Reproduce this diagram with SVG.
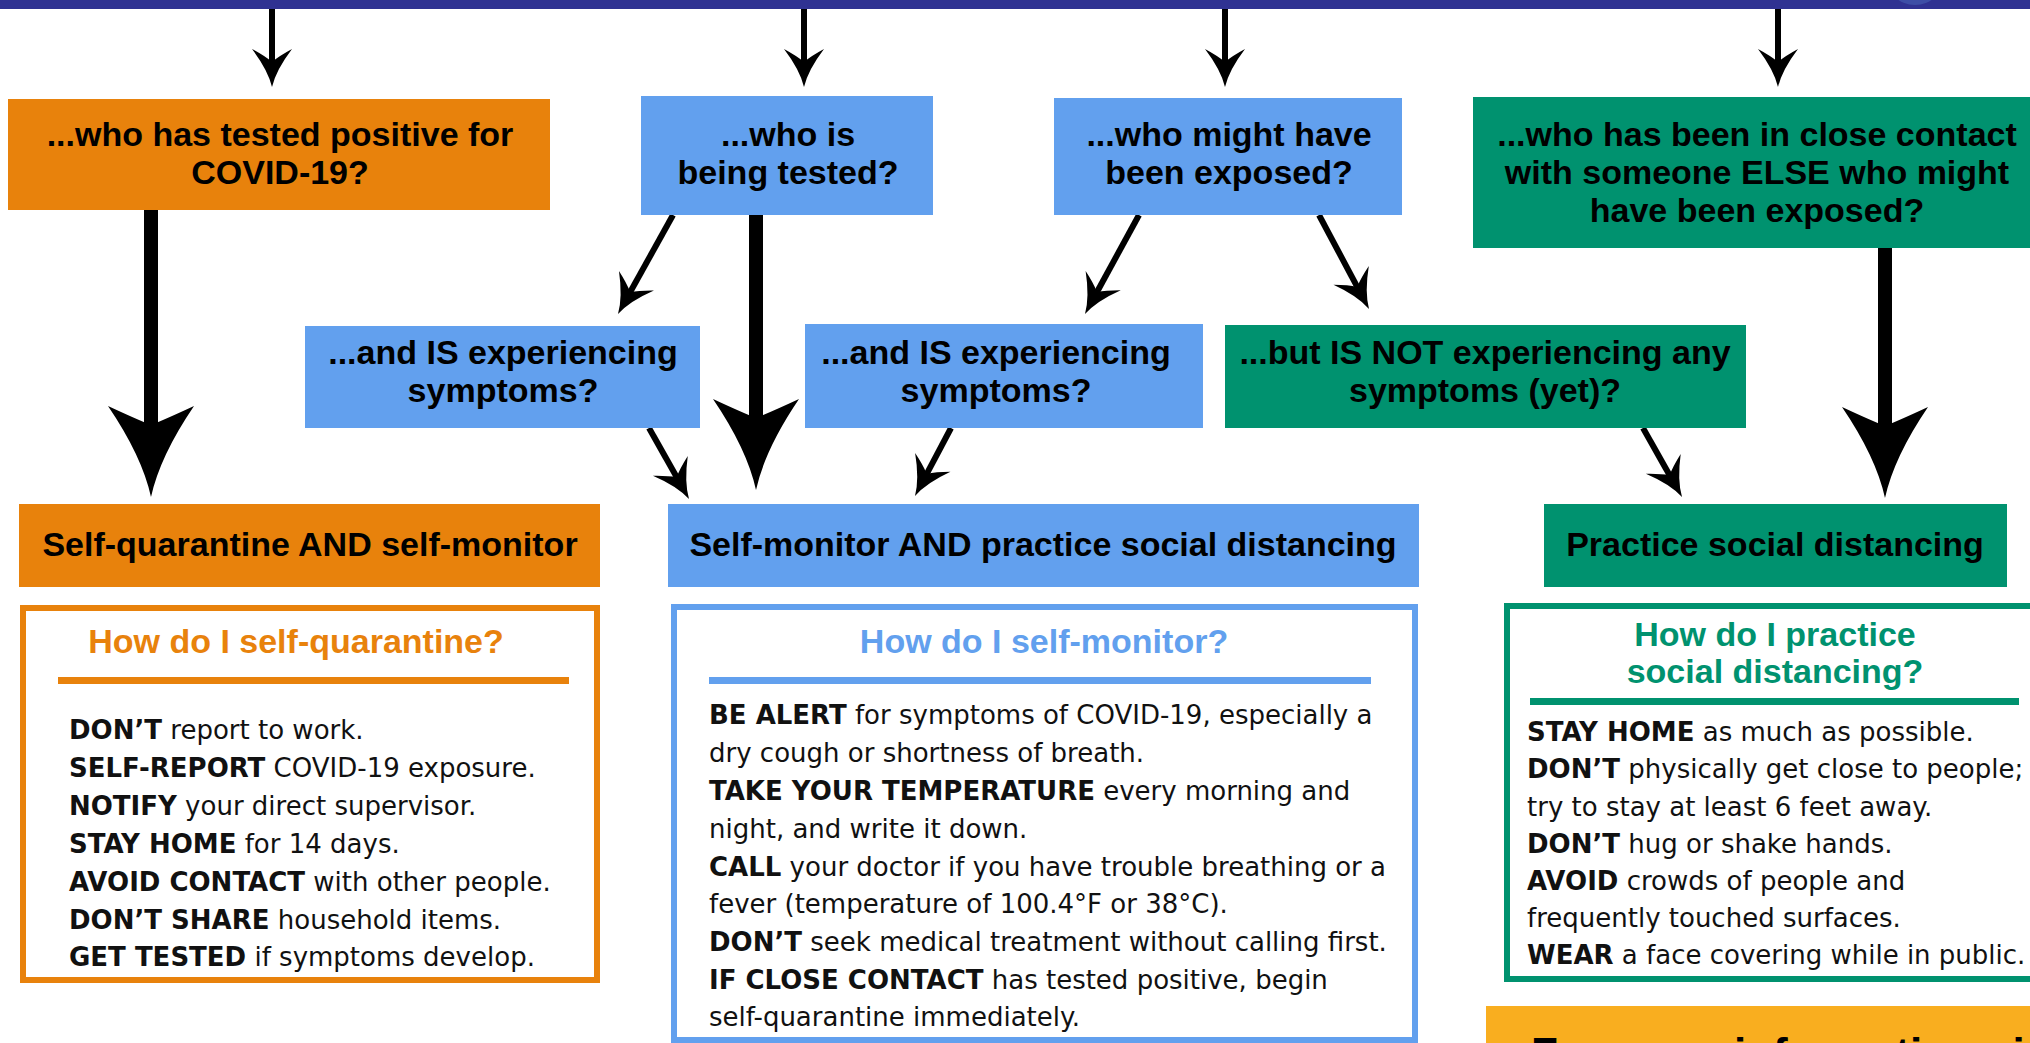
<svg xmlns="http://www.w3.org/2000/svg" xmlns:xlink="http://www.w3.org/1999/xlink" width="2030" height="1043" viewBox="0 0 2030 1043">
<style>
.q{font-family:"Liberation Sans",Arial,sans-serif;font-weight:bold;font-size:34px;fill:#000;text-anchor:middle}
.t{font-family:"Liberation Sans",Arial,sans-serif;font-weight:bold;font-size:34px;text-anchor:middle}
.b{font-family:"DejaVu Sans",sans-serif;font-size:26px;fill:#111}
.k{font-weight:bold}
.or{fill:#e8820c}.bl{fill:#62a0ee}.gr{fill:#00926f}
.ors{fill:#fff;stroke:#e8820c;stroke-width:6}
.bls{fill:#fff;stroke:#62a0ee;stroke-width:6}
.grs{fill:#fff;stroke:#00926f;stroke-width:6}
.thin{stroke:#000;stroke-width:6;fill:none}
.thick{stroke:#000;stroke-width:14;fill:none}
.head{fill:#000}
</style>
<defs>
<path id="hs" d="M0,0 Q-17,-4 -38,-20 Q-31,-7 -25,0 Q-31,7 -38,20 Q-17,4 0,0 Z"/>
<path id="hl" d="M0,0 Q-41,-9 -91,-43 Q-78,-15 -72,0 Q-78,15 -91,43 Q-41,9 0,0 Z"/>
</defs>
<rect x="0" y="0" width="2030" height="1043" fill="#fff"/>
<g id="topbar">
<rect x="0" y="0" width="2030" height="9" fill="#2f3292"/>
<circle cx="1915" cy="-25" r="30" fill="#3d4ea6"/>
</g>

<g id="connectors">
<line class="thin" x1="272" y1="9" x2="272" y2="68"/>
<use class="head" href="#hs" transform="translate(272,87) rotate(90)"/>
<line class="thin" x1="804" y1="9" x2="804" y2="68"/>
<use class="head" href="#hs" transform="translate(804,87) rotate(90)"/>
<line class="thin" x1="1225" y1="9" x2="1225" y2="68"/>
<use class="head" href="#hs" transform="translate(1225,87) rotate(90)"/>
<line class="thin" x1="1778" y1="9" x2="1778" y2="68"/>
<use class="head" href="#hs" transform="translate(1778,87) rotate(90)"/>

<line class="thick" x1="151" y1="210" x2="151" y2="432"/>
<use class="head" href="#hl" transform="translate(151,497) rotate(90)"/>
<line class="thick" x1="756" y1="215" x2="756" y2="425"/>
<use class="head" href="#hl" transform="translate(756,490) rotate(90)"/>
<line class="thick" x1="1885" y1="248" x2="1885" y2="433"/>
<use class="head" href="#hl" transform="translate(1885,498) rotate(90)"/>

<line class="thin" x1="673" y1="215" x2="628.7" y2="294.8"/>
<use class="head" href="#hs" transform="translate(618,314) rotate(119.06)"/>
<line class="thin" x1="649" y1="428" x2="678.2" y2="479.8"/>
<use class="head" href="#hs" transform="translate(689,499) rotate(60.6)"/>
<line class="thin" x1="1139" y1="215" x2="1095.5" y2="294.7"/>
<use class="head" href="#hs" transform="translate(1085,314) rotate(118.6)"/>
<line class="thin" x1="1319" y1="215" x2="1358.7" y2="289.6"/>
<use class="head" href="#hs" transform="translate(1369,309) rotate(62)"/>
<line class="thin" x1="951" y1="428" x2="925.3" y2="476.6"/>
<use class="head" href="#hs" transform="translate(915,496) rotate(117.9)"/>
<line class="thin" x1="1643" y1="428" x2="1671.2" y2="477.9"/>
<use class="head" href="#hs" transform="translate(1682,497) rotate(60.5)"/>
</g>

<g id="q-positive">
<rect class="or" x="8" y="99" width="542" height="111"/>
<text class="q" x="280" y="146">...who has tested positive for</text>
<text class="q" x="280" y="184">COVID-19?</text>
</g>
<g id="q-tested">
<rect class="bl" x="641" y="96" width="292" height="119"/>
<text class="q" x="788" y="146">...who is</text>
<text class="q" x="788" y="184">being tested?</text>
</g>
<g id="q-exposed">
<rect class="bl" x="1054" y="98" width="348" height="117"/>
<text class="q" x="1229" y="146">...who might have</text>
<text class="q" x="1229" y="184">been exposed?</text>
</g>
<g id="q-contact">
<rect class="gr" x="1473" y="97" width="570" height="151"/>
<text class="q" x="1757" y="146">...who has been in close contact</text>
<text class="q" x="1757" y="184">with someone ELSE who might</text>
<text class="q" x="1757" y="222">have been exposed?</text>
</g>
<g id="s-tested-symptoms">
<rect class="bl" x="305" y="326" width="395" height="102"/>
<text class="q" x="503" y="364">...and IS experiencing</text>
<text class="q" x="503" y="402">symptoms?</text>
</g>
<g id="s-exposed-symptoms">
<rect class="bl" x="805" y="324" width="398" height="104"/>
<text class="q" x="996" y="364">...and IS experiencing</text>
<text class="q" x="996" y="402">symptoms?</text>
</g>
<g id="s-no-symptoms">
<rect class="gr" x="1225" y="325" width="521" height="103"/>
<text class="q" x="1485" y="364">...but IS NOT experiencing any</text>
<text class="q" x="1485" y="402">symptoms (yet)?</text>
</g>

<g id="r-quarantine">
<rect class="or" x="19" y="504" width="581" height="83"/>
<text class="q" x="310" y="556">Self-quarantine AND self-monitor</text>
</g>
<g id="r-monitor">
<rect class="bl" x="668" y="504" width="751" height="83"/>
<text class="q" x="1043" y="556">Self-monitor AND practice social distancing</text>
</g>
<g id="r-distancing">
<rect class="gr" x="1544" y="504" width="463" height="83"/>
<text class="q" x="1775" y="556">Practice social distancing</text>
</g>

<g id="info-quarantine">
<rect class="ors" x="23" y="608" width="574" height="372"/>
<text class="t or" x="296" y="653">How do I self-quarantine?</text>
<rect class="or" x="58" y="677" width="511" height="7"/>
<text class="b" x="69" y="739"><tspan class="k">DON’T</tspan> report to work.</text>
<text class="b" x="69" y="777"><tspan class="k">SELF-REPORT</tspan> COVID-19 exposure.</text>
<text class="b" x="69" y="815"><tspan class="k">NOTIFY</tspan> your direct supervisor.</text>
<text class="b" x="69" y="853"><tspan class="k">STAY HOME</tspan> for 14 days.</text>
<text class="b" x="69" y="891"><tspan class="k">AVOID CONTACT</tspan> with other people.</text>
<text class="b" x="69" y="929"><tspan class="k">DON’T SHARE</tspan> household items.</text>
<text class="b" x="69" y="966"><tspan class="k">GET TESTED</tspan> if symptoms develop.</text>
</g>
<g id="info-monitor">
<rect class="bls" x="674" y="607" width="741" height="433"/>
<text class="t bl" x="1044" y="653">How do I self-monitor?</text>
<rect class="bl" x="709" y="677" width="662" height="7"/>
<text class="b" x="709" y="724"><tspan class="k">BE ALERT</tspan> for symptoms of COVID-19, especially a</text>
<text class="b" x="709" y="762">dry cough or shortness of breath.</text>
<text class="b" x="709" y="800"><tspan class="k">TAKE YOUR TEMPERATURE</tspan> every morning and</text>
<text class="b" x="709" y="838">night, and write it down.</text>
<text class="b" x="709" y="876"><tspan class="k">CALL</tspan> your doctor if you have trouble breathing or a</text>
<text class="b" x="709" y="913">fever (temperature of 100.4°F or 38°C).</text>
<text class="b" x="709" y="951"><tspan class="k">DON’T</tspan> seek medical treatment without calling first.</text>
<text class="b" x="709" y="989"><tspan class="k">IF CLOSE CONTACT</tspan> has tested positive, begin</text>
<text class="b" x="709" y="1026">self-quarantine immediately.</text>
</g>
<g id="info-distancing">
<rect class="grs" x="1507" y="606" width="530" height="373"/>
<text class="t gr" x="1775" y="646">How do I practice</text>
<text class="t gr" x="1775" y="683">social distancing?</text>
<rect class="gr" x="1530" y="698" width="489" height="7"/>
<text class="b" x="1527" y="741"><tspan class="k">STAY HOME</tspan> as much as possible.</text>
<text class="b" x="1527" y="778"><tspan class="k">DON’T</tspan> physically get close to people;</text>
<text class="b" x="1527" y="816">try to stay at least 6 feet away.</text>
<text class="b" x="1527" y="853"><tspan class="k">DON’T</tspan> hug or shake hands.</text>
<text class="b" x="1527" y="890"><tspan class="k">AVOID</tspan> crowds of people and</text>
<text class="b" x="1527" y="927">frequently touched surfaces.</text>
<text class="b" x="1527" y="964"><tspan class="k">WEAR</tspan> a face covering while in public.</text>
</g>
<g id="more-info">
<rect x="1486" y="1006" width="560" height="60" fill="#f9ae1f"/>
<text x="1531" y="1069" font-family="Liberation Sans, Arial, sans-serif" font-weight="bold" font-size="44" fill="#000">For more information visit</text>
</g>
</svg>
